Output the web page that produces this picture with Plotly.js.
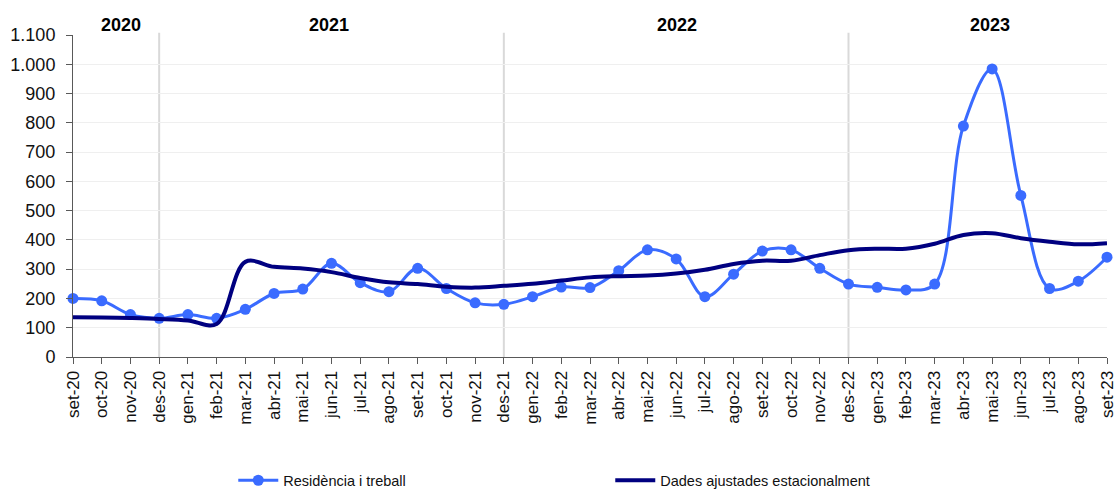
<!DOCTYPE html>
<html>
<head>
<meta charset="utf-8">
<script src="https://cdn.plot.ly/plotly-3.0.1.min.js"></script>
<style>html,body{margin:0;padding:0;background:#fff;}#chart{width:1117px;height:491px;}</style>
</head>
<body>
<div id="chart"></div>
<script>
var months = ["set-20","oct-20","nov-20","des-20","gen-21","feb-21","mar-21","abr-21","mai-21","jun-21","jul-21","ago-21",
  "set-21","oct-21","nov-21","des-21","gen-22","feb-22","mar-22","abr-22","mai-22","jun-22","jul-22","ago-22",
  "set-22","oct-22","nov-22","des-22","gen-23","feb-23","mar-23","abr-23","mai-23","jun-23","jul-23","ago-23","set-23"];
var residencia = [200,192,145,132,145,132,163,217,232,320,254,223,
  303,234,185,180,206,239,237,295,366,335,206,283,
  362,366,303,249,238,229,249,789,984,552,234,259,341];
var ajustades = [136,135,133,130,125,113,325,308,302,290,270,255,
  249,240,237,243,250,261,272,276,278,285,298,318,
  329,329,348,365,370,370,387,417,423,406,394,385,389];
var yearLabels = ["2020","2021","2022","2023"];
var yearPos = [0.046, 0.248, 0.584, 0.887];
var yearSeparators = ["des-20","des-21","des-22"];

var traces = [
  {x: months, y: residencia, name: "Residència i treball", type: "scatter", mode: "lines+markers",
   line: {color: "#3A6BFF", width: 3, shape: "spline", smoothing: 1}, marker: {color: "#3A6BFF", size: 11},
   cliponaxis: false},
  {x: months, y: ajustades, name: "Dades ajustades estacionalment", type: "scatter", mode: "lines",
   line: {color: "#000080", width: 4, shape: "spline", smoothing: 1}, cliponaxis: false}
];

var shapes = yearSeparators.map(function(m){
  return {type: "line", xref: "x", yref: "paper", x0: m, x1: m, y0: 0, y1: 1.007,
    line: {color: "#d9d9d9", width: 2}, layer: "below"};
});
var annotations = yearLabels.map(function(t, i){
  return {text: "<b>" + t + "</b>", xref: "paper", yref: "paper", x: yearPos[i], y: 1.0, yanchor: "bottom",
    xanchor: "center", showarrow: false, font: {family: "Liberation Sans, Arial", size: 18, color: "#000"}, yshift: -2};
});

var layout = {
  width: 1117, height: 491,
  margin: {l: 73, r: 10, t: 35, b: 134, pad: 0, autoexpand: false},
  paper_bgcolor: "#fff", plot_bgcolor: "#fff",
  separators: ",.",
  font: {family: "Liberation Sans, Arial, sans-serif", color: "#111"},
  xaxis: {type: "category", range: [0, 36], tickangle: -90, showgrid: false, showline: true, linecolor: "#595959",
    linewidth: 1, ticks: "outside", ticklen: 6, tickcolor: "#595959", tickfont: {size: 17, color: "#111"},
    zeroline: false, fixedrange: true, automargin: false},
  yaxis: {range: [0, 1100], dtick: 100, tickformat: ",d", showgrid: true, gridcolor: "#efefef", gridwidth: 1,
    showline: true, linecolor: "#595959", linewidth: 1, ticks: "outside", ticklen: 6, tickcolor: "#595959",
    ticklabelstandoff: 7,
    tickfont: {size: 18, color: "#111"}, zeroline: false, fixedrange: true, automargin: false},
  showlegend: true,
  legend: {orientation: "h", x: 0.155, xanchor: "left", y: -0.383, yanchor: "middle",
    font: {family: "Liberation Sans, Arial", size: 14.5, color: "#111"},
    entrywidth: 322, entrywidthmode: "pixels", itemwidth: 40, bgcolor: "rgba(0,0,0,0)"},
  shapes: shapes,
  annotations: annotations
};
Plotly.newPlot("chart", traces, layout, {displayModeBar: false, staticPlot: true});
</script>
</body>
</html>
